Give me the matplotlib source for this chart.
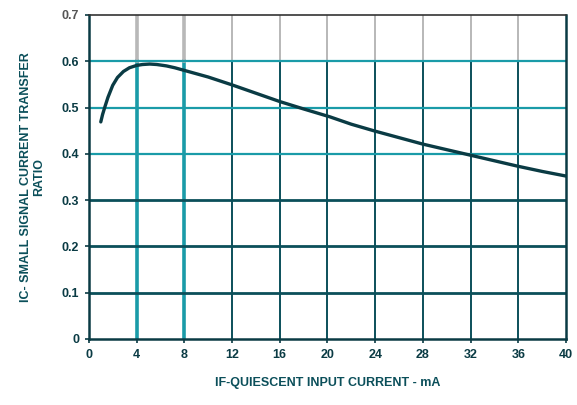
import matplotlib
matplotlib.use("Agg")
import matplotlib.pyplot as plt
import numpy as np

matplotlib.rcParams['font.family'] = 'Liberation Sans'
matplotlib.rcParams['font.weight'] = 'bold'

# curve
if_ma = [1.0, 1.15, 1.35, 1.6, 2.0, 2.4, 2.9, 3.4, 4.0, 4.5, 5.1, 5.7, 6.5, 7.2, 7.9,
         10.0, 12.0, 14.0, 16.0, 18.0, 20.2, 22.0, 24.0, 26.0, 28.0, 30.0, 32.0,
         34.0, 36.0, 38.0, 40.0]
ic_ratio = [0.469, 0.485, 0.502, 0.522, 0.548, 0.565, 0.578, 0.586, 0.591, 0.593,
            0.594, 0.593, 0.590, 0.586, 0.581, 0.566, 0.549, 0.531, 0.513, 0.497,
            0.480, 0.464, 0.449, 0.435, 0.421, 0.409, 0.397, 0.385, 0.373, 0.362,
            0.352]

x_ticks = [0, 4, 8, 12, 16, 20, 24, 28, 32, 36, 40]
y_ticks = [0, 0.1, 0.2, 0.3, 0.4, 0.5, 0.6, 0.7]

teal = '#1a9ba8'
dark = '#0b4f5a'
ink = '#0a3b44'

fig = plt.figure(figsize=(5.77, 4.05), dpi=100)
ax = fig.add_axes([0.154, 0.163, 0.827, 0.800])

# vertical grid: teal below 0.6, grey above
for xv in x_ticks[1:-1]:
    lw = 2.6 if xv in (4, 8) else 1.4
    col = teal if xv in (4, 8) else dark
    ax.plot([xv, xv], [0, 0.6], color=col, lw=lw, zorder=1)
    ax.plot([xv, xv], [0.6, 0.7], color='#b8b8b8', lw=lw, zorder=1)

# horizontal grid
for yv in y_ticks[1:-1]:
    if yv >= 0.4:
        ax.axhline(yv, color=teal, lw=1.6, zorder=1)
    else:
        ax.axhline(yv, color=dark, lw=2.0, zorder=1)

ax.plot(if_ma, ic_ratio, color=ink, lw=2.4, zorder=3, solid_capstyle='round',
        solid_joinstyle='round')

ax.set_xlim(0, 40)
ax.set_ylim(0, 0.7)
ax.set_xticks(x_ticks)
ax.set_yticks(y_ticks)
ax.set_xticklabels([str(v) for v in x_ticks])
ax.set_yticklabels(['0', '0.1', '0.2', '0.3', '0.4', '0.5', '0.6', '0.7'])
ax.tick_params(axis='both', labelsize=9, colors=ink, length=3, width=1.2, pad=4)
ax.get_yticklabels()[-1].set_color('#555555')

for side in ['left', 'bottom', 'right']:
    ax.spines[side].set_color(ink)
    ax.spines[side].set_linewidth(1.8)
ax.spines['top'].set_color('#333333')
ax.spines['top'].set_linewidth(1.2)

ax.set_xlabel('IF-QUIESCENT INPUT CURRENT - mA', fontsize=9, color=dark,
              fontweight='bold', labelpad=12)
ax.set_ylabel('IC- SMALL SIGNAL CURRENT TRANSFER\nRATIO', fontsize=9, color=dark,
              fontweight='bold', labelpad=12, linespacing=1.1)

fig.savefig('out.png', dpi=100, facecolor='white')
